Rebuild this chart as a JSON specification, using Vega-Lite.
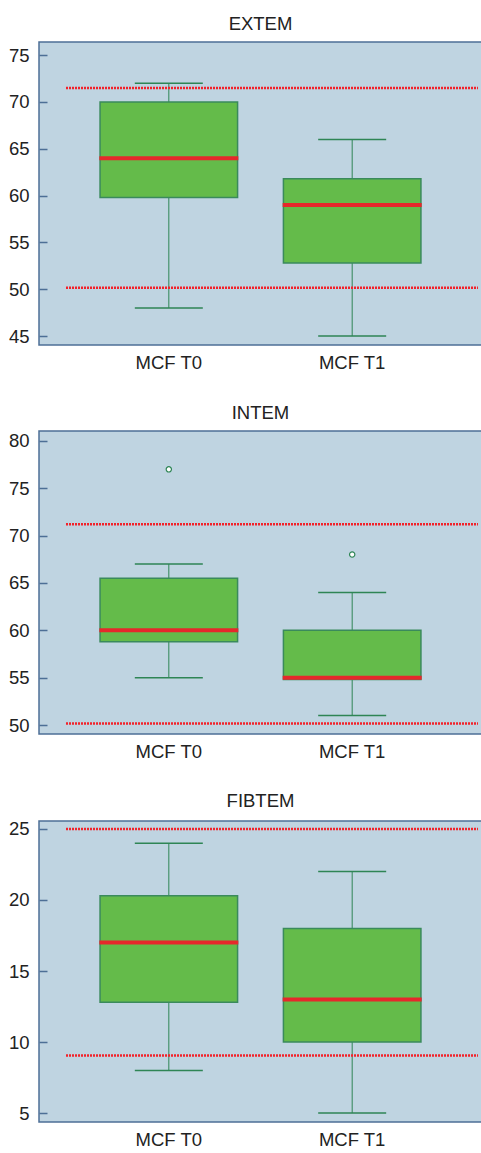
{
  "$schema": "https://vega.github.io/schema/vega-lite/v6.json",
  "padding": {"left": 7, "top": 13, "right": 0, "bottom": 0},
  "background": "white",
  "config": {
    "font": "Liberation Sans",
    "view": {"fill": "#bfd4e1", "stroke": "#4d6f96", "strokeWidth": 1.5},
    "title": {"fontSize": 18.5, "fontWeight": "normal", "color": "#222222", "offset": 9, "font": "Liberation Sans"},
    "axis": {"labelFontSize": 18.5, "labelColor": "#222222", "grid": false, "domainColor": "#4d6f96", "tickColor": "#4d6f96", "labelFont": "Liberation Sans"},
    "concat": {"spacing": 29}
  },
  "datasets": {
    "extem": [
      {"group": "MCF T0", "lower": 48, "q1": 59.8, "median": 64, "q3": 70, "upper": 72},
      {"group": "MCF T1", "lower": 45, "q1": 52.8, "median": 59, "q3": 61.8, "upper": 66}
    ],
    "extem_ref": [{"ref": 71.5, "xs": 0.061, "xe": 0.991}, {"ref": 50.15, "xs": 0.061, "xe": 0.991}],
    "intem": [
      {"group": "MCF T0", "lower": 55, "q1": 58.8, "median": 60, "q3": 65.5, "upper": 67},
      {"group": "MCF T1", "lower": 51, "q1": 54.8, "median": 55, "q3": 60, "upper": 64}
    ],
    "intem_out": [{"group": "MCF T0", "value": 77}, {"group": "MCF T1", "value": 68}],
    "intem_ref": [{"ref": 71.2, "xs": 0.061, "xe": 0.991}, {"ref": 50.15, "xs": 0.061, "xe": 0.991}],
    "fibtem": [
      {"group": "MCF T0", "lower": 8, "q1": 12.8, "median": 17, "q3": 20.3, "upper": 24},
      {"group": "MCF T1", "lower": 5, "q1": 10, "median": 13, "q3": 18, "upper": 22}
    ],
    "fibtem_ref": [{"ref": 25, "xs": 0.061, "xe": 0.991}, {"ref": 9.05, "xs": 0.061, "xe": 0.991}]
  },
  "vconcat": [
    {
      "title": "EXTEM",
      "width": 443,
      "height": 303,
      "resolve": {"scale": {"x": "independent"}},
      "layer": [
        {
          "data": {"name": "extem"},
          "encoding": {
            "x": {"field": "group", "type": "nominal", "scale": {"type": "band", "paddingInner": 0.25, "paddingOuter": 0.333}, "axis": {"title": null, "labelAngle": 0, "domain": false, "ticks": false, "labelPadding": 8}}
          },
          "layer": [
            {
              "mark": {"type": "rule", "color": "#2e8555", "strokeWidth": 1},
              "encoding": {
                "y": {"field": "lower", "type": "quantitative", "scale": {"domain": [44.05, 76.4], "nice": false, "zero": false}, "axis": {"title": null, "values": [45, 50, 55, 60, 65, 70, 75], "domain": false, "tickSize": -8, "labelPadding": 18, "tickWidth": 1.5}},
                "y2": {"field": "upper"}
              }
            },
            {
              "mark": {"type": "tick", "color": "#2e8555", "size": 68, "thickness": 1.5, "opacity": 1},
              "encoding": {"y": {"field": "lower", "type": "quantitative", "title": null}}
            },
            {
              "mark": {"type": "tick", "color": "#2e8555", "size": 68, "thickness": 1.5, "opacity": 1},
              "encoding": {"y": {"field": "upper", "type": "quantitative", "title": null}}
            },
            {
              "mark": {"type": "bar", "fill": "#64bb4a", "stroke": "#3a8a5c", "strokeWidth": 1.5},
              "encoding": {"y": {"field": "q1", "type": "quantitative", "title": null}, "y2": {"field": "q3"}}
            },
            {
              "mark": {"type": "tick", "color": "#e5282b", "size": 139, "thickness": 4, "opacity": 1},
              "encoding": {"y": {"field": "median", "type": "quantitative", "title": null}}
            }
          ]
        },
        {
          "data": {"name": "extem_ref"},
          "mark": {"type": "rule", "color": "#f2222a", "strokeWidth": 2.5, "strokeDash": [2, 1]},
          "encoding": {
            "x": {"field": "xs", "type": "quantitative", "scale": {"domain": [0, 1]}, "axis": null},
            "x2": {"field": "xe"},
            "y": {"field": "ref", "type": "quantitative", "title": null}
          }
        }
      ]
    },
    {
      "title": "INTEM",
      "width": 443,
      "height": 303,
      "resolve": {"scale": {"x": "independent"}},
      "layer": [
        {
          "encoding": {
            "x": {"field": "group", "type": "nominal", "scale": {"type": "band", "paddingInner": 0.25, "paddingOuter": 0.333}, "axis": {"title": null, "labelAngle": 0, "domain": false, "ticks": false, "labelPadding": 8}}
          },
          "layer": [
            {
              "data": {"name": "intem"},
              "mark": {"type": "rule", "color": "#2e8555", "strokeWidth": 1},
              "encoding": {
                "y": {"field": "lower", "type": "quantitative", "scale": {"domain": [49.05, 81.05], "nice": false, "zero": false}, "axis": {"title": null, "values": [50, 55, 60, 65, 70, 75, 80], "domain": false, "tickSize": -8, "labelPadding": 18, "tickWidth": 1.5}},
                "y2": {"field": "upper"}
              }
            },
            {
              "data": {"name": "intem"},
              "mark": {"type": "tick", "color": "#2e8555", "size": 68, "thickness": 1.5, "opacity": 1},
              "encoding": {"y": {"field": "lower", "type": "quantitative", "title": null}}
            },
            {
              "data": {"name": "intem"},
              "mark": {"type": "tick", "color": "#2e8555", "size": 68, "thickness": 1.5, "opacity": 1},
              "encoding": {"y": {"field": "upper", "type": "quantitative", "title": null}}
            },
            {
              "data": {"name": "intem"},
              "mark": {"type": "bar", "fill": "#64bb4a", "stroke": "#3a8a5c", "strokeWidth": 1.5},
              "encoding": {"y": {"field": "q1", "type": "quantitative", "title": null}, "y2": {"field": "q3"}}
            },
            {
              "data": {"name": "intem"},
              "mark": {"type": "tick", "color": "#e5282b", "size": 139, "thickness": 4, "opacity": 1},
              "encoding": {"y": {"field": "median", "type": "quantitative", "title": null}}
            },
            {
              "data": {"name": "intem_out"},
              "mark": {"type": "point", "filled": true, "fill": "white", "stroke": "#2e8555", "strokeWidth": 1.2, "size": 28, "opacity": 1},
              "encoding": {"y": {"field": "value", "type": "quantitative", "title": null}}
            }
          ]
        },
        {
          "data": {"name": "intem_ref"},
          "mark": {"type": "rule", "color": "#f2222a", "strokeWidth": 2.5, "strokeDash": [2, 1]},
          "encoding": {
            "x": {"field": "xs", "type": "quantitative", "scale": {"domain": [0, 1]}, "axis": null},
            "x2": {"field": "xe"},
            "y": {"field": "ref", "type": "quantitative", "title": null}
          }
        }
      ]
    },
    {
      "title": "FIBTEM",
      "width": 443,
      "height": 301,
      "resolve": {"scale": {"x": "independent"}},
      "layer": [
        {
          "data": {"name": "fibtem"},
          "encoding": {
            "x": {"field": "group", "type": "nominal", "scale": {"type": "band", "paddingInner": 0.25, "paddingOuter": 0.333}, "axis": {"title": null, "labelAngle": 0, "domain": false, "ticks": false, "labelPadding": 8}}
          },
          "layer": [
            {
              "mark": {"type": "rule", "color": "#2e8555", "strokeWidth": 1},
              "encoding": {
                "y": {"field": "lower", "type": "quantitative", "scale": {"domain": [4.37, 25.56], "nice": false, "zero": false}, "axis": {"title": null, "values": [5, 10, 15, 20, 25], "domain": false, "tickSize": -8, "labelPadding": 18, "tickWidth": 1.5}},
                "y2": {"field": "upper"}
              }
            },
            {
              "mark": {"type": "tick", "color": "#2e8555", "size": 68, "thickness": 1.5, "opacity": 1},
              "encoding": {"y": {"field": "lower", "type": "quantitative", "title": null}}
            },
            {
              "mark": {"type": "tick", "color": "#2e8555", "size": 68, "thickness": 1.5, "opacity": 1},
              "encoding": {"y": {"field": "upper", "type": "quantitative", "title": null}}
            },
            {
              "mark": {"type": "bar", "fill": "#64bb4a", "stroke": "#3a8a5c", "strokeWidth": 1.5},
              "encoding": {"y": {"field": "q1", "type": "quantitative", "title": null}, "y2": {"field": "q3"}}
            },
            {
              "mark": {"type": "tick", "color": "#e5282b", "size": 139, "thickness": 4, "opacity": 1},
              "encoding": {"y": {"field": "median", "type": "quantitative", "title": null}}
            }
          ]
        },
        {
          "data": {"name": "fibtem_ref"},
          "mark": {"type": "rule", "color": "#f2222a", "strokeWidth": 2.5, "strokeDash": [2, 1]},
          "encoding": {
            "x": {"field": "xs", "type": "quantitative", "scale": {"domain": [0, 1]}, "axis": null},
            "x2": {"field": "xe"},
            "y": {"field": "ref", "type": "quantitative", "title": null}
          }
        }
      ]
    }
  ]
}
